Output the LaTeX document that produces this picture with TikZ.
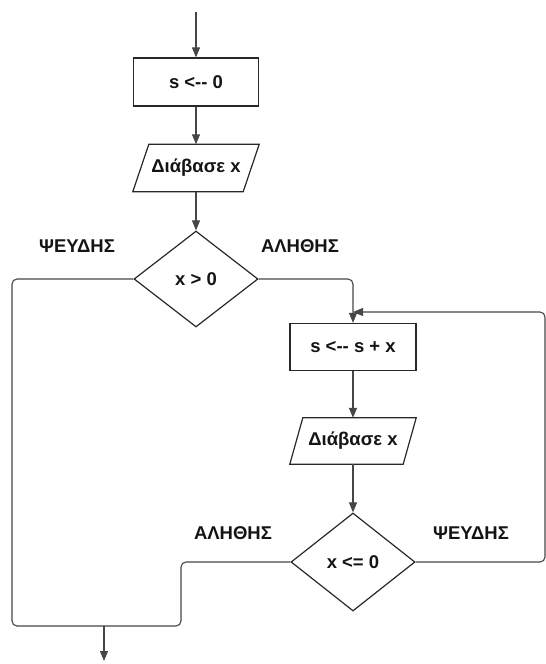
\documentclass[tikz,border=0pt]{standalone}
\usepackage{fontspec}
\setmainfont{Liberation Sans}[Ligatures=TeXOff]
\usetikzlibrary{shapes.geometric,arrows.meta}
\definecolor{shapeline}{RGB}{40,40,40}
\definecolor{connline}{RGB}{70,70,70}
\definecolor{txt}{RGB}{20,20,20}
\begin{document}
\begin{tikzpicture}[x=1pt,y=-1pt,
  every node/.style={font=\fontsize{18.5}{21}\selectfont\bfseries, text=txt},
  procbox/.style={draw=shapeline, line width=1.2pt, rectangle, minimum width=125pt, minimum height=48pt, inner sep=0pt},
  iobox/.style={rectangle, minimum height=47pt, inner sep=0pt},
  decbox/.style={draw=shapeline, line width=1.2pt, diamond, minimum width=124pt, minimum height=96pt, inner sep=0pt},
  conn/.style={draw=connline, line width=1.1pt, rounded corners=5pt},
  arr/.style={conn, -{Triangle[length=10pt,width=8pt]}},
  lbl/.style={inner sep=0pt}
]
\useasboundingbox (0,0) rectangle (546,664);
% nodes
\coordinate (start) at (196,12);
\node[procbox] (b1) at (196,82) {s <-- 0};
\node[iobox, minimum width=110pt] (p1) at (196,168) {Διάβασε x};
\draw[shapeline, line width=1.2pt] ([xshift=8pt]p1.north west) -- ([xshift=8pt]p1.north east) -- ([xshift=-8pt]p1.south east) -- ([xshift=-8pt]p1.south west) -- cycle;
\node[decbox] (d1) at (196,279) {x > 0};
\node[procbox, minimum width=126pt, minimum height=47pt] (b2) at (353,347) {s <-- s + x};
\node[iobox, minimum width=113pt, minimum height=46pt] (p2) at (353,441) {Διάβασε x};
\draw[shapeline, line width=1.2pt] ([xshift=6.5pt]p2.north west) -- ([xshift=6.5pt]p2.north east) -- ([xshift=-6.5pt]p2.south east) -- ([xshift=-6.5pt]p2.south west) -- cycle;
\node[decbox, minimum height=98pt] (d2) at (353,562) {x <= 0};
% labels
\node[lbl] (f1) at (77,246) {ΨΕΥΔΗΣ};
\node[lbl] (t1) at (300,246) {ΑΛΗΘΗΣ};
\node[lbl] (t2) at (233,533) {ΑΛΗΘΗΣ};
\node[lbl] (f2) at (471,533) {ΨΕΥΔΗΣ};
% helper coordinates
\coordinate (lb) at (12,626);
\coordinate (jn) at (181,562);
\coordinate (out) at (104,626);
\coordinate (end) at (104,661);
\coordinate (rc) at (545,312);
\coordinate (lp) at (353,312);
% connectors
\draw[arr] (start) -- (b1.north);
\draw[arr] (b1.south) -- (p1.north);
\draw[arr] (p1.south) -- (d1.north);
\draw[arr] (d1.east) -| (b2.north);
\draw[arr] (b2.south) -- (p2.north);
\draw[arr] (p2.south) -- (d2.north);
\draw[conn] (d1.west) -| (lb) -| (jn) -- (d2.west);
\draw[arr] (out) -- (end);
\draw[arr] (d2.east) -| (rc) -- (lp);
\end{tikzpicture}
\end{document}
